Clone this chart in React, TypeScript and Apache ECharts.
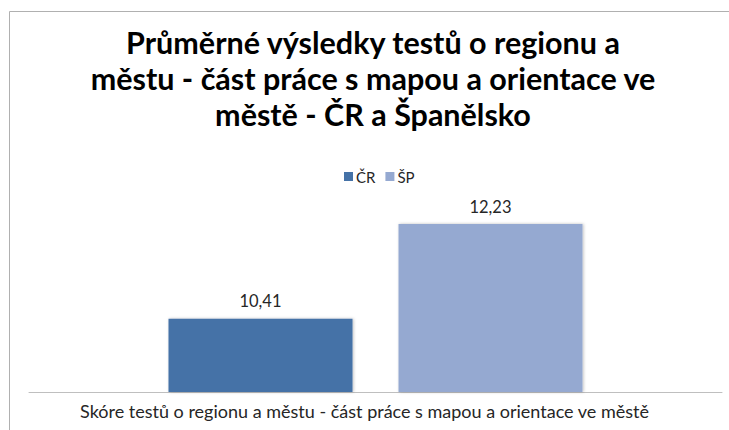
import React, { useEffect, useRef } from "react";
import * as echarts from "echarts";

const categories = ["Skóre testů o regionu a městu - část práce s mapou a orientace ve městě"];
const seriesNames = ["ČR", "ŠP"];
const crValues = [10.41];
const spValues = [12.23];
const titleText = "Průměrné výsledky testů o regionu a\nměstu - část práce s mapou a orientace ve\nměstě - ČR a Španělsko";

const FONT = "Lato, 'Noto Sans', sans-serif";

export default function App() {
  const ref = useRef<HTMLDivElement>(null);
  useEffect(() => {
    document.body.style.margin = "0";
    const chart = echarts.init(ref.current!, null, { renderer: "svg" });
    const fmt = (p: any) => String(p.value.toFixed(2)).replace(".", ",");
    chart.setOption({
      animation: false,
      backgroundColor: "#ffffff",
      textStyle: { fontFamily: FONT },
      title: {
        text: titleText,
        left: 368,
        textAlign: "center",
        top: 19,
        textStyle: { fontSize: 30.5, fontWeight: "bold", color: "#000000", lineHeight: 36, fontFamily: FONT },
      },
      legend: {
        data: seriesNames,
        top: 164,
        left: 339,
        itemWidth: 9,
        itemHeight: 9,
        itemGap: 10,
        icon: "rect",
        textStyle: { fontSize: 15, color: "#262626", fontFamily: FONT, padding: [0, 0, 0, -2] },
      },
      graphic: [
        {
          type: "rect",
          shape: { x: 9.5, y: 11.5, width: 740, height: 440 },
          style: { fill: "none", stroke: "#b0b0b0", lineWidth: 1 },
          silent: true,
        },
      ],
      grid: { left: 29, right: 7, top: 184, bottom: 38 },
      xAxis: {
        type: "category",
        data: categories,
        axisLine: { lineStyle: { color: "#bfbfbf", width: 1 } },
        axisTick: { show: false },
        axisLabel: { fontSize: 18, color: "#262626", margin: 10, fontFamily: FONT, padding: [0, 22, 0, 0] },
      },
      yAxis: {
        type: "value",
        min: 9,
        max: 13,
        show: false,
        splitLine: { show: false },
      },
      series: [
        {
          name: seriesNames[0],
          type: "bar",
          data: crValues,
          barWidth: 184,
          barGap: "25%",
          itemStyle: { color: "#4572a7", shadowColor: "rgba(0,0,0,0.25)", shadowBlur: 3, shadowOffsetX: 1, shadowOffsetY: 0 },
          label: { show: true, position: "top", distance: 9, fontSize: 16.5, color: "#262626", formatter: fmt, fontFamily: FONT },
        },
        {
          name: seriesNames[1],
          type: "bar",
          data: spValues,
          barWidth: 184,
          itemStyle: { color: "#95a9d1", shadowColor: "rgba(0,0,0,0.25)", shadowBlur: 3, shadowOffsetX: 1, shadowOffsetY: 0 },
          label: { show: true, position: "top", distance: 9, fontSize: 16.5, color: "#262626", formatter: fmt, fontFamily: FONT },
        },
      ],
    });
    return () => chart.dispose();
  }, []);
  return <div ref={ref} style={{ width: 729, height: 430 }} />;
}
